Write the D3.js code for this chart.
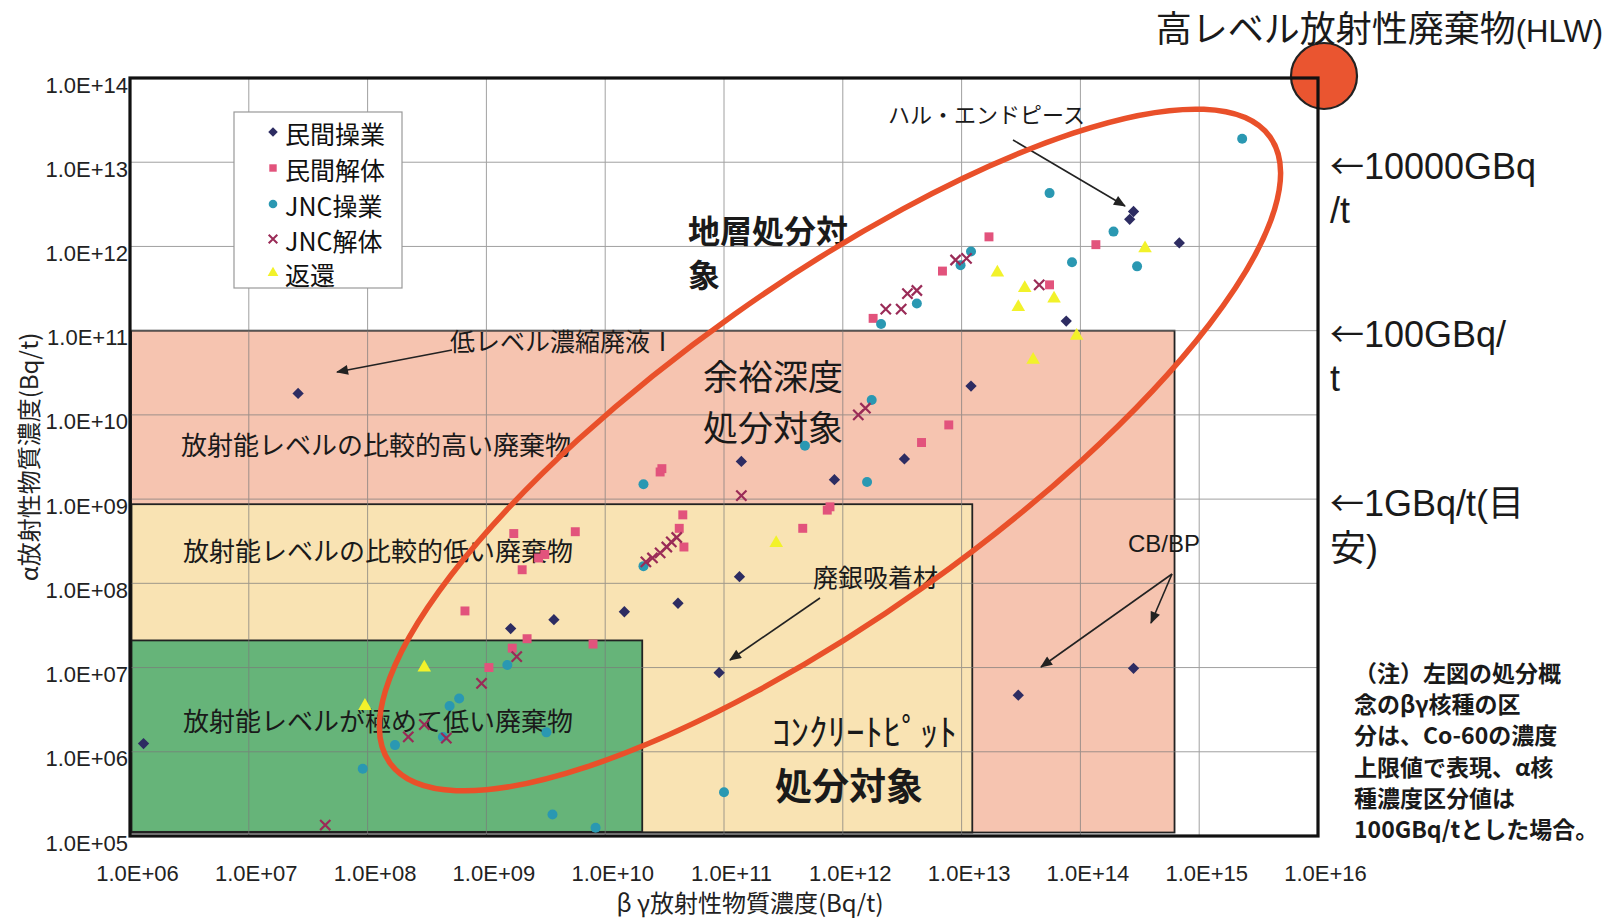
<!DOCTYPE html>
<html><head><meta charset="utf-8">
<script src="https://cdn.jsdelivr.net/npm/d3@7"></script>
<style>
body{margin:0;background:#fff;}
svg{display:block;font-family:"Liberation Sans","Noto Sans CJK JP",sans-serif;}
.jp{font-family:"Noto Sans CJK JP","Liberation Sans",sans-serif;}
</style></head>
<body><svg id="c" width="1610" height="920"></svg>
<script>
// ---------------- data ----------------
const xTicks = [1e6,1e7,1e8,1e9,1e10,1e11,1e12,1e13,1e14,1e15,1e16];
const xTickLabels = ["1.0E+06","1.0E+07","1.0E+08","1.0E+09","1.0E+10","1.0E+11","1.0E+12","1.0E+13","1.0E+14","1.0E+15","1.0E+16"];
const yTicks = [1e5,1e6,1e7,1e8,1e9,1e10,1e11,1e12,1e13,1e14];
const yTickLabels = ["1.0E+05","1.0E+06","1.0E+07","1.0E+08","1.0E+09","1.0E+10","1.0E+11","1.0E+12","1.0E+13","1.0E+14"];

const seriesNames = ["民間操業","民間解体","JNC操業","JNC解体","返還"];

// [beta-gamma (Bq/t), alpha (Bq/t)]
const minkanSogyo = [
  [2.8e14,2.6e12],[2.6e14,2.1e12],[6.8e14,1.1e12],[7.6e13,1.3e11],[1.2e13,2.2e10],
  [1.4e11,2.8e9],[8.5e11,1.7e9],[3.3e12,3.0e9],[1.35e11,1.2e8],[4.1e10,5.8e7],
  [1.45e10,4.6e7],[3.7e9,3.7e7],[1.6e9,2.9e7],[9.1e10,8.7e6],[2.6e7,1.8e10],
  [1.3e6,1.25e6],[2.8e14,9.8e6],[3.0e13,4.7e6]
];
const minkanKaitai = [
  [1.7e13,1.3e12],[1.35e14,1.05e12],[6.9e12,5.1e11],[1.8e12,1.4e11],[5.5e13,3.5e11],
  [7.8e12,7.6e9],[4.6e12,4.7e9],[2.9e10,2.1e9],[3.0e10,2.3e9],[7.4e11,7.4e8],
  [7.8e11,8.1e8],[4.6e11,4.5e8],[4.5e10,6.5e8],[4.2e10,4.5e8],[4.6e10,2.7e8],
  [1.7e9,3.9e8],[5.6e9,4.1e8],[2.0e9,1.45e8],[2.75e9,2.0e8],[3.1e9,2.2e8],
  [2.2e9,2.2e7],[7.9e9,1.9e7],[6.6e8,4.7e7],[1.65e9,1.7e7],[1.05e9,1.0e7]
];
const jncSogyo = [
  [2.3e15,1.9e13],[5.5e13,4.3e12],[1.9e14,1.5e12],[8.5e13,6.5e11],[3.0e14,5.8e11],
  [1.2e13,8.7e11],[9.8e12,6.0e11],[4.2e12,2.1e11],[2.1e12,1.2e11],[1.75e12,1.5e10],
  [4.8e11,4.3e9],[2.1e10,1.5e9],[1.6e12,1.6e9],[2.1e10,1.6e8],[1.5e9,1.07e7],
  [4.9e8,3.5e6],[5.9e8,4.3e6],[1.7e8,1.2e6],[9.1e7,6.3e5],[4.3e8,1.5e6],
  [3.2e9,1.7e6],[3.6e9,1.8e5],[8.3e9,1.25e5],[1.0e11,3.3e5]
];
const jncKaitai = [
  [8.9e12,6.9e11],[1.1e13,7.2e11],[3.5e12,2.75e11],[4.2e12,3.0e11],[2.3e12,1.8e11],
  [3.1e12,1.8e11],[4.5e13,3.5e11],[1.55e12,1.2e10],[1.35e12,1.0e10],[1.4e11,1.1e9],
  [2.2e10,1.8e8],[2.5e10,2.0e8],[2.9e10,2.3e8],[3.3e10,2.7e8],[3.6e10,3.1e8],
  [4.0e10,3.5e8],[9.1e8,6.5e6],[2.2e8,1.5e6],[4.6e8,1.45e6],[1.8e9,1.35e7],
  [4.4e7,1.35e5],[3.0e8,2.1e6]
];
const henkan = [
  [3.5e14,9.5e11],[2.0e13,4.9e11],[3.4e13,3.2e11],[6.0e13,2.4e11],[3.0e13,1.9e11],
  [9.3e13,8.7e10],[4.0e13,4.5e10],[2.75e11,3.0e8],[3.0e8,1.0e7],[9.5e7,3.5e6]
];

// disposal zones [xMin, xMax, yMin, yMax] in Bq/t
const zoneHigh = [1.02e6, 6.2e14, 1.1e5, 1.0e11];
const zoneLow  = [1.03e6, 1.23e13, 1.1e5, 8.7e8];
const zoneVeryLow = [1.02e6, 2.05e10, 1.12e5, 2.1e7];

// ---------------- drawing ----------------
const svg = d3.select("#c");
const L=130, R=1318, T=78, B=836;
const x = d3.scaleLog().domain([1e6,1e16]).range([L,R]);
const y = d3.scaleLog().domain([1e5,1e14]).range([B,T]);

const defs = svg.append("defs");
defs.append("marker").attr("id","arr").attr("viewBox","0 0 12 10")
  .attr("refX",11).attr("refY",5).attr("markerWidth",13).attr("markerHeight",10)
  .attr("markerUnits","userSpaceOnUse").attr("orient","auto")
  .append("path").attr("d","M0,0 L12,5 L0,10 Z").attr("fill","#222");

svg.append("rect").attr("x",L).attr("y",T).attr("width",R-L).attr("height",B-T).attr("fill","#fff");

// zones
const zones = [
  {z:zoneHigh, fill:"#f6c4b0"},
  {z:zoneLow, fill:"#f9e3b3"},
  {z:zoneVeryLow, fill:"#66b479"}
];
const zg = svg.append("g");
zones.forEach(d=>{
  zg.append("rect").attr("x",x(d.z[0])).attr("y",y(d.z[3]))
    .attr("width",x(d.z[1])-x(d.z[0])).attr("height",y(d.z[2])-y(d.z[3]))
    .attr("fill",d.fill);
});

// gridlines
const gg = svg.append("g").attr("stroke","#7a7a7a").attr("stroke-width",1).attr("opacity",0.7);
xTicks.slice(1,-1).forEach(v=>gg.append("line").attr("x1",x(v)).attr("x2",x(v)).attr("y1",T).attr("y2",B));
yTicks.slice(1,-1).forEach(v=>gg.append("line").attr("y1",y(v)).attr("y2",y(v)).attr("x1",L).attr("x2",R));

zones.forEach(d=>{
  zg.append("rect").attr("x",x(d.z[0])).attr("y",y(d.z[3]))
    .attr("width",x(d.z[1])-x(d.z[0])).attr("height",y(d.z[2])-y(d.z[3]))
    .attr("fill","none").attr("stroke","#222").attr("stroke-width",1.8);
});

// in-plot region texts
const tg = svg.append("g").attr("class","jp").attr("fill","#1a1a1a");
function txt(s,px,py,size,weight,anchor){
  return tg.append("text").attr("x",px).attr("y",py).attr("font-size",size)
    .attr("font-weight",weight||"normal").attr("text-anchor",anchor||"start").text(s);
}
txt("地層処分対",688,243,32,"bold");
txt("象",688,287,32,"bold");
txt("余裕深度",703,390,35);
txt("処分対象",703,441,35);
txt("低レベル濃縮廃液Ⅰ",450,351,25);
txt("放射能レベルの比較的高い廃棄物",181,455,26);
txt("放射能レベルの比較的低い廃棄物",183,561,26);
txt("放射能レベルが極めて低い廃棄物",183,731,26);
txt("ハル・エンドピース",888,123,22);
txt("廃銀吸着材",813,587,25);
txt("ｺﾝｸﾘｰﾄﾋﾟｯﾄ",772,746,37);
txt("処分対象",775,800,37,"bold");
tg.append("text").attr("x",1128).attr("y",552).attr("font-size",24)
  .attr("font-family","Liberation Sans").text("CB/BP");

// arrows
const arrows = [
  [452,350,337,372],[1013,140,1125,206],[820,598,730,660],
  [1172,574,1041,667],[1172,574,1151,623]
];
svg.append("g").selectAll("line").data(arrows).join("line")
  .attr("x1",d=>d[0]).attr("y1",d=>d[1]).attr("x2",d=>d[2]).attr("y2",d=>d[3])
  .attr("stroke","#222").attr("stroke-width",1.6).attr("marker-end","url(#arr)");

// points
const pg = svg.append("g");
const sym = (t,s)=>d3.symbol().type(t).size(s)();
pg.selectAll(".s2").data(minkanKaitai).join("path")
  .attr("transform",d=>`translate(${x(d[0])},${y(d[1])})`)
  .attr("d",sym(d3.symbolSquare,80)).attr("fill","#e2537c");
pg.selectAll(".s3").data(jncSogyo).join("circle")
  .attr("cx",d=>x(d[0])).attr("cy",d=>y(d[1])).attr("r",5).attr("fill","#2a98b2");
pg.selectAll(".s4").data(jncKaitai).join("path")
  .attr("transform",d=>`translate(${x(d[0])},${y(d[1])})`)
  .attr("d",sym(d3.symbolX,70)).attr("fill","none").attr("stroke","#9a2b57").attr("stroke-width",2.2);
pg.selectAll(".s5").data(henkan).join("path")
  .attr("transform",d=>`translate(${x(d[0])},${y(d[1])})`)
  .attr("d",sym(d3.symbolTriangle,80)).attr("fill","#f2f22a");
pg.selectAll(".s1").data(minkanSogyo).join("path")
  .attr("transform",d=>`translate(${x(d[0])},${y(d[1])}) rotate(45)`)
  .attr("d",sym(d3.symbolSquare,64)).attr("fill","#2d2c62");

// ellipse
svg.append("ellipse").attr("cx",830).attr("cy",450).attr("rx",540).attr("ry",166)
  .attr("transform","rotate(-35.4,830,450)")
  .attr("fill","none").attr("stroke","#e9502a").attr("stroke-width",5.5);

// HLW circle
svg.append("circle").attr("cx",1324).attr("cy",76).attr("r",33)
  .attr("fill","#ea5530").attr("stroke","#222").attr("stroke-width",2.2);

// frame
svg.append("rect").attr("x",L).attr("y",T).attr("width",R-L).attr("height",B-T)
  .attr("fill","none").attr("stroke","#111").attr("stroke-width",3.2);

// axes
const xAxis = d3.axisBottom(x).tickValues(xTicks).tickSize(0).tickPadding(29)
  .tickFormat((d,i)=>xTickLabels[i]);
const xa = svg.append("g").attr("transform",`translate(0,${B})`).call(xAxis);
xa.select(".domain").remove();
xa.selectAll("text").attr("font-size",22).attr("fill","#222")
  .attr("font-family","Liberation Sans").attr("dx",7);

const yAxis = d3.axisLeft(y).tickValues(yTicks).tickSize(0).tickPadding(2)
  .tickFormat((d,i)=>yTickLabels[i]);
const ya = svg.append("g").attr("transform",`translate(${L},0)`).call(yAxis);
ya.select(".domain").remove();
ya.selectAll("text").attr("font-size",22).attr("fill","#222")
  .attr("font-family","Liberation Sans").attr("y",7);

// axis titles
svg.append("text").attr("class","jp").attr("x",750).attr("y",912).attr("text-anchor","middle")
  .attr("font-size",24).attr("fill","#222").text("β γ放射性物質濃度(Bq/t)");
svg.append("text").attr("class","jp").attr("transform","translate(38,457) rotate(-90)")
  .attr("text-anchor","middle").attr("font-size",24).attr("fill","#222").text("α放射性物質濃度(Bq/t)");

// legend
const lg = svg.append("g");
lg.append("rect").attr("x",234).attr("y",112).attr("width",168).attr("height",176)
  .attr("fill","#fff").attr("stroke","#999").attr("stroke-width",1.2);
const legY = [136,172,208,243,277];
const legSyms = [
  g=>g.append("path").attr("d",sym(d3.symbolSquare,45)).attr("transform","rotate(45)").attr("fill","#2d2c62"),
  g=>g.append("path").attr("d",sym(d3.symbolSquare,55)).attr("fill","#e2537c"),
  g=>g.append("circle").attr("r",4.3).attr("fill","#2a98b2"),
  g=>g.append("path").attr("d",sym(d3.symbolX,50)).attr("fill","none").attr("stroke","#9a2b57").attr("stroke-width",2),
  g=>g.append("path").attr("d",sym(d3.symbolTriangle,50)).attr("fill","#f2f22a")
];
seriesNames.forEach((n,i)=>{
  const g = lg.append("g").attr("transform",`translate(273,${legY[i]-4})`);
  legSyms[i](g);
  lg.append("text").attr("class","jp").attr("x",285).attr("y",legY[i]+8)
    .attr("font-size",25).attr("fill","#111").text(n);
});

// HLW title and right-side labels
const ht = svg.append("text").attr("class","jp").attr("x",1603).attr("y",42)
  .attr("text-anchor","end").attr("fill","#1a1a1a");
ht.append("tspan").attr("font-size",36).text("高レベル放射性廃棄物");
ht.append("tspan").attr("font-size",31).attr("font-family","Liberation Sans").text("(HLW)");

const rg = svg.append("g").attr("fill","#1a1a1a").attr("font-size",36);
[["←","10000GBq",179],["","/t",223],["←","100GBq/",347],["","t",391],["←","1GBq/t(目",516],["","安)",561]]
  .forEach(d=>{
    const t = rg.append("text").attr("x",1330).attr("y",d[2]);
    if(d[0]) t.append("tspan").attr("class","jp").attr("font-size",34).text(d[0]);
    t.append("tspan").text(d[1]);
  });

// note
const notes = ["（注）左図の処分概","念のβγ核種の区","分は、Co-60の濃度","上限値で表現、α核","種濃度区分値は","100GBq/tとした場合。"];
const ng = svg.append("g").attr("class","jp").attr("font-size",23).attr("font-weight","bold").attr("fill","#1a1a1a");
notes.forEach((s,i)=>ng.append("text").attr("x",1354).attr("y",682+i*31.2).text(s));
</script></body></html>
